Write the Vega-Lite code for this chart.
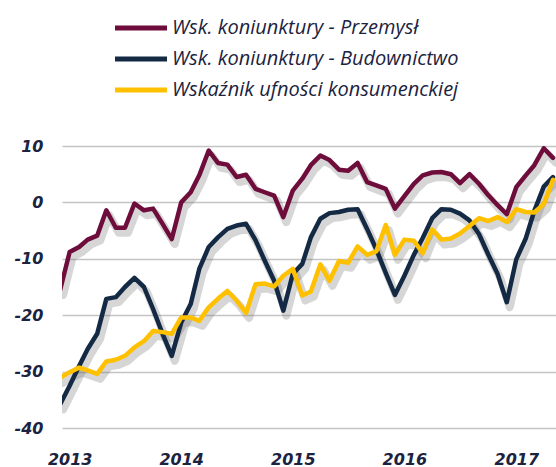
{
  "$schema": "https://vega.github.io/schema/vega-lite/v6.json",
  "width": 494,
  "height": 282,
  "autosize": {"type": "none"},
  "padding": {"left": 62, "top": 146, "right": 0, "bottom": 39},
  "background": "white",
  "config": {"view": {"stroke": null}},
  "data": {
    "values": [
      {"date": "2012-12-01", "P": -15.5, "B": -35.8, "C": -31.1},
      {"date": "2013-01-01", "P": -8.8, "B": -32.5, "C": -30.1},
      {"date": "2013-02-01", "P": -7.9, "B": -29.0, "C": -29.3},
      {"date": "2013-03-01", "P": -6.6, "B": -26.0, "C": -29.8},
      {"date": "2013-04-01", "P": -5.9, "B": -23.3, "C": -30.4},
      {"date": "2013-05-01", "P": -1.4, "B": -17.1, "C": -28.2},
      {"date": "2013-06-01", "P": -4.5, "B": -16.8, "C": -27.9},
      {"date": "2013-07-01", "P": -4.5, "B": -15.0, "C": -27.2},
      {"date": "2013-08-01", "P": -0.2, "B": -13.4, "C": -25.7},
      {"date": "2013-09-01", "P": -1.4, "B": -15.0, "C": -24.6},
      {"date": "2013-10-01", "P": -1.1, "B": -18.9, "C": -22.8},
      {"date": "2013-11-01", "P": -3.8, "B": -23.3, "C": -23.0},
      {"date": "2013-12-01", "P": -6.5, "B": -27.2, "C": -23.3},
      {"date": "2014-01-01", "P": 0.0, "B": -21.3, "C": -20.4},
      {"date": "2014-02-01", "P": 1.8, "B": -18.0, "C": -20.4},
      {"date": "2014-03-01", "P": 4.8, "B": -11.8, "C": -21.0},
      {"date": "2014-04-01", "P": 9.2, "B": -7.9, "C": -18.6},
      {"date": "2014-05-01", "P": 7.0, "B": -6.2, "C": -17.1},
      {"date": "2014-06-01", "P": 6.7, "B": -4.7, "C": -15.7},
      {"date": "2014-07-01", "P": 4.5, "B": -4.1, "C": -17.4},
      {"date": "2014-08-01", "P": 4.9, "B": -3.8, "C": -19.6},
      {"date": "2014-09-01", "P": 2.4, "B": -6.7, "C": -14.5},
      {"date": "2014-10-01", "P": 1.8, "B": -10.3, "C": -14.4},
      {"date": "2014-11-01", "P": 1.2, "B": -13.9, "C": -14.9},
      {"date": "2014-12-01", "P": -2.6, "B": -19.2, "C": -13.0},
      {"date": "2015-01-01", "P": 2.1, "B": -12.7, "C": -11.8},
      {"date": "2015-02-01", "P": 4.2, "B": -10.9, "C": -16.5},
      {"date": "2015-03-01", "P": 6.6, "B": -6.2, "C": -15.8},
      {"date": "2015-04-01", "P": 8.3, "B": -2.9, "C": -11.0},
      {"date": "2015-05-01", "P": 7.5, "B": -1.9, "C": -13.9},
      {"date": "2015-06-01", "P": 5.8, "B": -1.7, "C": -10.4},
      {"date": "2015-07-01", "P": 5.6, "B": -1.3, "C": -10.7},
      {"date": "2015-08-01", "P": 7.0, "B": -1.2, "C": -7.8},
      {"date": "2015-09-01", "P": 3.6, "B": -4.7, "C": -9.3},
      {"date": "2015-10-01", "P": 3.0, "B": -8.3, "C": -8.7},
      {"date": "2015-11-01", "P": 2.4, "B": -12.5, "C": -4.0},
      {"date": "2015-12-01", "P": -1.1, "B": -16.4, "C": -9.3},
      {"date": "2016-01-01", "P": 1.1, "B": -13.0, "C": -6.6},
      {"date": "2016-02-01", "P": 3.3, "B": -9.3, "C": -6.8},
      {"date": "2016-03-01", "P": 4.8, "B": -6.3, "C": -9.0},
      {"date": "2016-04-01", "P": 5.3, "B": -2.8, "C": -4.8},
      {"date": "2016-05-01", "P": 5.4, "B": -1.2, "C": -6.6},
      {"date": "2016-06-01", "P": 5.0, "B": -1.3, "C": -6.4},
      {"date": "2016-07-01", "P": 3.4, "B": -2.0, "C": -5.5},
      {"date": "2016-08-01", "P": 5.0, "B": -3.2, "C": -4.2},
      {"date": "2016-09-01", "P": 3.3, "B": -5.6, "C": -2.8},
      {"date": "2016-10-01", "P": 1.3, "B": -9.2, "C": -3.3},
      {"date": "2016-11-01", "P": -0.5, "B": -12.7, "C": -2.6},
      {"date": "2016-12-01", "P": -2.1, "B": -17.7, "C": -3.5},
      {"date": "2017-01-01", "P": 2.7, "B": -10.1, "C": -1.2},
      {"date": "2017-02-01", "P": 4.8, "B": -6.4, "C": -1.7},
      {"date": "2017-03-01", "P": 6.6, "B": -1.5, "C": -1.8},
      {"date": "2017-04-01", "P": 9.6, "B": 2.8, "C": -0.3},
      {"date": "2017-05-01", "P": 7.9, "B": 4.5, "C": 4.0}
    ]
  },
  "transform": [{"fold": ["P", "B", "C"], "as": ["series", "value"]}],
  "encoding": {
    "x": {
      "field": "date",
      "type": "temporal",
      "scale": {
        "type": "utc",
        "domain": [
          {"year": 2012, "month": 12, "date": 7, "utc": true},
          {"year": 2017, "month": 5, "date": 11, "utc": true}
        ]
      },
      "axis": {
        "title": null,
        "values": [
          {"year": 2013, "month": 1, "date": 1, "utc": true},
          {"year": 2014, "month": 1, "date": 1, "utc": true},
          {"year": 2015, "month": 1, "date": 1, "utc": true},
          {"year": 2016, "month": 1, "date": 1, "utc": true},
          {"year": 2017, "month": 1, "date": 1, "utc": true}
        ],
        "format": "%Y",
        "grid": false,
        "domain": false,
        "ticks": false,
        "tickSize": 0,
        "labelFont": "DejaVu Sans",
        "labelFontStyle": "italic",
        "labelFontWeight": "bold",
        "labelFontSize": 16,
        "labelColor": "#1c2340",
        "labelPadding": 23,
        "labelBaseline": "top",
        "labelFlush": false,
        "labelOverlap": false
      }
    },
    "y": {
      "field": "value",
      "type": "quantitative",
      "scale": {"domain": [-40, 10], "nice": false, "zero": false},
      "axis": {
        "title": null,
        "values": [-40, -30, -20, -10, 0, 10],
        "labelExpr": "'' + datum.value",
        "grid": true,
        "gridColor": "#c4c4c4",
        "gridWidth": 1.3,
        "domain": false,
        "ticks": false,
        "tickSize": 0,
        "labelFont": "DejaVu Sans",
        "labelFontStyle": "italic",
        "labelFontWeight": "bold",
        "labelFontSize": 16,
        "labelColor": "#1c2340",
        "labelPadding": 19
      }
    }
  },
  "layer": [
    {
      "mark": {"type": "line", "stroke": "#6a6a6a", "strokeWidth": 8, "opacity": 0.28, "xOffset": 3, "yOffset": 5, "clip": true, "strokeJoin": "round", "strokeCap": "round"},
      "encoding": {"detail": {"field": "series"}}
    },
    {
      "mark": {"type": "line", "strokeWidth": 4.5, "clip": true, "strokeJoin": "round", "strokeCap": "round"},
      "encoding": {
        "color": {
          "field": "series",
          "type": "nominal",
          "scale": {"domain": ["P", "B", "C"], "range": ["#6e0d3b", "#142a44", "#ffc000"]},
          "legend": {
            "orient": "none",
            "legendX": 66.5,
            "legendY": -130.5,
            "direction": "vertical",
            "title": null,
            "padding": 0,
            "symbolType": "M-2.6,0H2.6",
            "symbolSize": 400,
            "symbolStrokeWidth": 5,
            "labelFont": "Open Sans",
            "labelFontStyle": "italic",
            "labelFontSize": 20,
            "labelColor": "#1c2340",
            "labelOffset": 18.5,
            "labelLimit": 400,
            "rowPadding": 8,
            "labelExpr": "datum.label == 'P' ? 'Wsk. koniunktury - Przemysł' : datum.label == 'B' ? 'Wsk. koniunktury - Budownictwo' : 'Wskaźnik ufności konsumenckiej'"
          }
        }
      }
    }
  ]
}
